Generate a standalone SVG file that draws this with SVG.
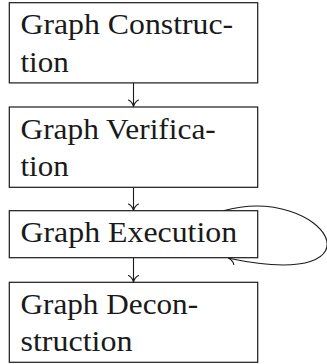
<svg xmlns="http://www.w3.org/2000/svg" width="327" height="364" viewBox="0 0 327 364">
  <style>
    .box { fill: #ffffff; stroke: #1a1a1a; stroke-width: 1.2; }
    .lbl { font-size: 29px; fill: #1a1a1a; }
    .edge { fill: none; stroke: #1a1a1a; stroke-width: 1.1; }
  </style>
  <defs>
    <!-- curved "to"-style arrow tip -->
    <marker id="tip" markerUnits="userSpaceOnUse" viewBox="-8 -6 9 12" refX="0" refY="0" markerWidth="9" markerHeight="12" orient="auto" overflow="visible">
      <path d="M -6.5,-5 C -5,-2 -2,-0.5 0,0 C -2,0.5 -5,2 -6.5,5" fill="none" stroke="#1a1a1a" stroke-width="1.1" stroke-linecap="round"/>
    </marker>
  </defs>

  <rect width="327" height="364" fill="#ffffff"/>

  <g id="connectors">
    <path class="edge" d="M 133.5,83 L 133.5,106.5" marker-end="url(#tip)"/>
    <path class="edge" d="M 133.5,187.3 L 133.5,210.5" marker-end="url(#tip)"/>
    <path class="edge" d="M 133.5,257.7 L 133.5,282" marker-end="url(#tip)"/>
    <path class="edge" d="M 223.3,210.7 C 325,183 392,292 228.5,258.3" marker-end="url(#tip)"/>
  </g>

  <g font-family="Liberation Serif, serif">
    <g id="construction">
      <rect class="box" x="9.3" y="2.7" width="248.4" height="80.2"/>
      <text class="lbl" x="20.5" y="34.3" textLength="212.6" lengthAdjust="spacingAndGlyphs">Graph Construc-</text>
      <text class="lbl" x="20.5" y="71.7" textLength="48.3" lengthAdjust="spacingAndGlyphs">tion</text>
    </g>

    <g id="verification">
      <rect class="box" x="9.3" y="107" width="248.4" height="80.3"/>
      <text class="lbl" x="20.5" y="138.5" textLength="195.3" lengthAdjust="spacingAndGlyphs">Graph Verifica-</text>
      <text class="lbl" x="20.5" y="176" textLength="48.3" lengthAdjust="spacingAndGlyphs">tion</text>
    </g>

    <g id="execution">
      <rect class="box" x="9.3" y="210.7" width="248.4" height="47"/>
      <text class="lbl" x="20.5" y="241.7" textLength="216.6" lengthAdjust="spacingAndGlyphs">Graph Execution</text>
    </g>

    <g id="deconstruction">
      <rect class="box" x="9.3" y="282.3" width="248.4" height="80"/>
      <text class="lbl" x="20.5" y="313.8" textLength="177.6" lengthAdjust="spacingAndGlyphs">Graph Decon-</text>
      <text class="lbl" x="20.5" y="351.2" textLength="112" lengthAdjust="spacingAndGlyphs">struction</text>
    </g>
  </g>
</svg>
